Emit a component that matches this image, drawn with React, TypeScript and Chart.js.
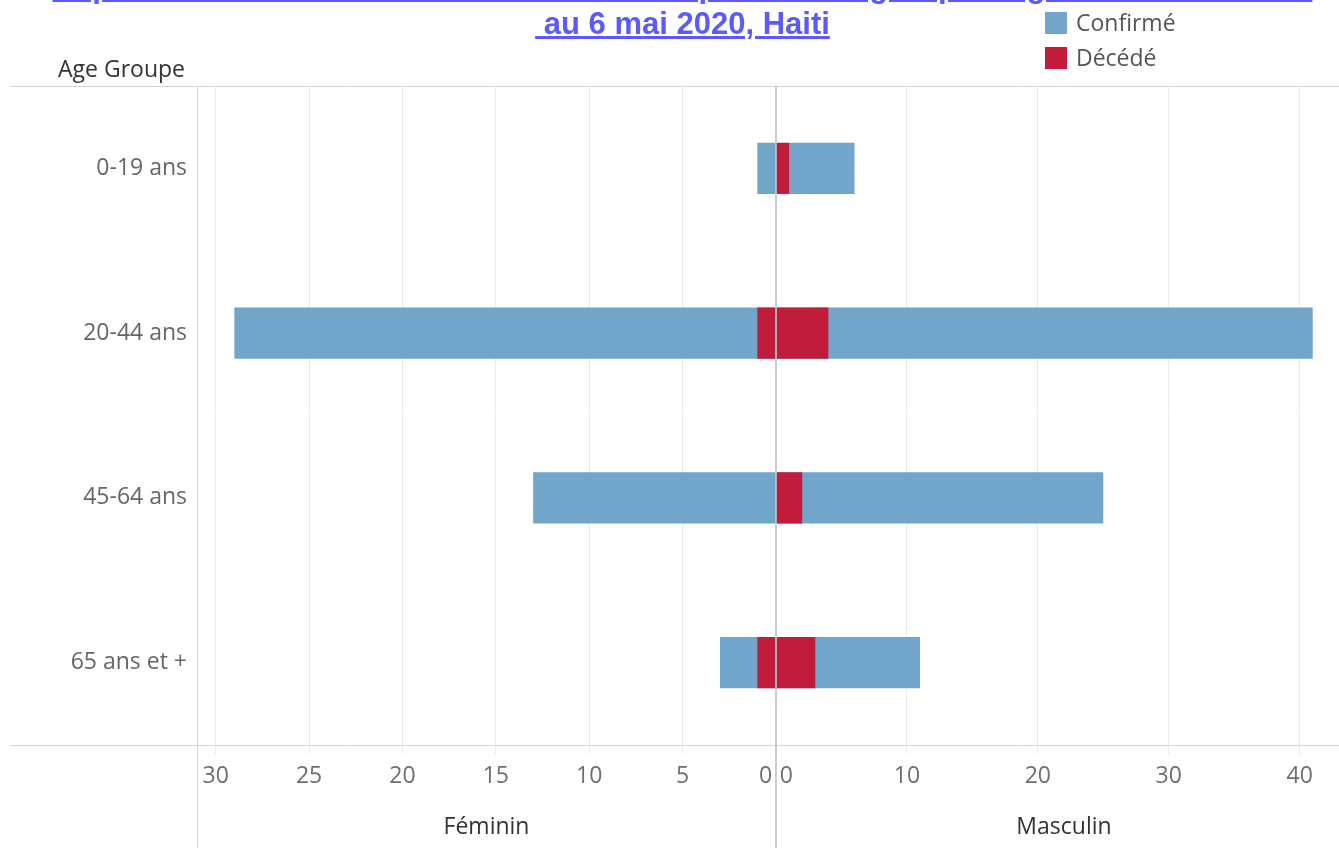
import React, { useEffect, useRef } from 'react';
import { Chart, registerables } from 'chart.js';

Chart.register(...registerables);

const titleLine1 = "Répartition des cas confirmés et des décès par sexe et groupe d'âge du 19 mars 2020";
const titleLine2 = '\u00a0au 6 mai 2020, Haiti';
const rowHeader = 'Age Groupe';
const ageGroups = ['0-19 ans', '20-44 ans', '45-64 ans', '65 ans et +'];
const femaleConfirmed = [1, 29, 13, 3];
const femaleDeceased = [0, 1, 0, 1];
const maleConfirmed = [6, 41, 25, 11];
const maleDeceased = [1, 4, 2, 3];
const femaleTicks = [0, 5, 10, 15, 20, 25, 30];
const maleTicks = [0, 10, 20, 30, 40];
const femaleMax = 31;
const maleMax = 44;
const paneLabels = ['Féminin', 'Masculin'];
const legendLabels = ['Confirmé', 'Décédé'];

const BLUE = '#72a5ca';
const RED = '#c21c3c';
const legendColors = [BLUE, RED];
const FONT = "'Open Sans', 'Noto Sans', sans-serif";

const framePlugin = {
  id: 'frame',
  afterDatasetsDraw(chart: any) {
    const { ctx, chartArea, width, height } = chart;
    const xF = chart.scales.xF;
    ctx.save();
    ctx.strokeStyle = '#d4d4d4';
    ctx.lineWidth = 1;
    ctx.beginPath();
    ctx.moveTo(10, Math.round(chartArea.top) + 0.5);
    ctx.lineTo(width, Math.round(chartArea.top) + 0.5);
    ctx.moveTo(10, Math.round(chartArea.bottom) + 0.5);
    ctx.lineTo(width, Math.round(chartArea.bottom) + 0.5);
    ctx.moveTo(Math.round(chartArea.left) + 0.5, chartArea.top);
    ctx.lineTo(Math.round(chartArea.left) + 0.5, height);
    ctx.stroke();
    const x0 = Math.round(xF.getPixelForValue(0));
    ctx.strokeStyle = 'rgba(190,190,190,0.75)';
    ctx.lineWidth = 2;
    ctx.beginPath();
    ctx.moveTo(x0, chartArea.top);
    ctx.lineTo(x0, height);
    ctx.stroke();
    ctx.restore();
  },
};

function makeXAxis(ticksList: number[], max: number, reverse: boolean, title: string, weight: number) {
  return {
    type: 'linear',
    position: 'bottom',
    stack: 'panes',
    stackWeight: weight,
    reverse,
    min: 0,
    max,
    afterBuildTicks: (s: any) => {
      s.ticks = [...ticksList, max].map((v) => ({ value: v }));
    },
    afterFit: (s: any) => {
      s.height = 103;
    },
    ticks: {
      align: 'inner',
      autoSkip: false,
      maxRotation: 0,
      minRotation: 0,
      padding: 9,
      color: '#6e6e6e',
      font: { family: FONT, size: 23 },
      callback: (v: number) => {
        if (!ticksList.includes(v)) return '';
        if (v === 0) return reverse ? '0\u2009' : '\u20090';
        return String(v);
      },
    },
    grid: {
      color: (c: any) =>
        c.tick && (c.tick.value === 0 || c.tick.value === max) ? 'rgba(0,0,0,0)' : '#ececec',
      lineWidth: 1,
      tickLength: 9,
      drawTicks: true,
    },
    border: { display: false },
    title: {
      display: true,
      text: title,
      color: '#333333',
      font: { family: FONT, size: 23 },
      padding: { top: 0, bottom: 7 },
    },
  };
}

export default function App() {
  const canvasRef = useRef<HTMLCanvasElement | null>(null);

  useEffect(() => {
    const canvas = canvasRef.current;
    if (!canvas) return;
    const common = { grouped: false, barPercentage: 0.31, categoryPercentage: 1, borderWidth: 0 };
    const chart = new Chart(canvas, {
      type: 'bar',
      data: {
        labels: ageGroups,
        datasets: [
          { label: legendLabels[1] + ' ' + paneLabels[0], data: femaleDeceased, xAxisID: 'xF', yAxisID: 'y', backgroundColor: RED, order: 0, ...common },
          { label: legendLabels[1] + ' ' + paneLabels[1], data: maleDeceased, xAxisID: 'xM', yAxisID: 'y', backgroundColor: RED, order: 0, ...common },
          { label: legendLabels[0] + ' ' + paneLabels[0], data: femaleConfirmed, xAxisID: 'xF', yAxisID: 'y', backgroundColor: BLUE, order: 1, ...common },
          { label: legendLabels[0] + ' ' + paneLabels[1], data: maleConfirmed, xAxisID: 'xM', yAxisID: 'y', backgroundColor: BLUE, order: 1, ...common },
        ] as any,
      },
      options: {
        indexAxis: 'y',
        animation: false,
        responsive: false,
        devicePixelRatio: 1,
        layout: { padding: { top: 86, left: 0, right: 0, bottom: 0 } },
        plugins: { legend: { display: false }, tooltip: { enabled: false } },
        scales: {
          xF: makeXAxis(femaleTicks, femaleMax, true, paneLabels[0], 579),
          xM: makeXAxis(maleTicks, maleMax, false, paneLabels[1], 576),
          y: {
            type: 'category',
            position: 'left',
            grid: { display: false, drawTicks: false },
            border: { display: false },
            ticks: { padding: 10, color: '#666666', font: { family: FONT, size: 23 } },
            afterFit: (s: any) => {
              s.width = 197;
            },
          },
        } as any,
      } as any,
      plugins: [framePlugin],
    });
    return () => chart.destroy();
  }, []);

  return (
    <div style={{ position: 'fixed', left: 0, top: 0, width: 1339, height: 848, overflow: 'hidden', background: '#ffffff' }}>
      <canvas ref={canvasRef} width={1361} height={848} style={{ position: 'absolute', left: 0, top: 0, display: 'block' }} />
      <div
        style={{
          position: 'absolute',
          left: 0,
          top: -32,
          width: 1365,
          textAlign: 'center',
          fontFamily: "'Liberation Sans', Arial, sans-serif",
          fontWeight: 'bold',
          fontSize: 31,
          lineHeight: '37px',
          color: '#5a5aff',
          textDecoration: 'underline',
          whiteSpace: 'nowrap',
        }}
      >
        {titleLine1}
        <br />
        {titleLine2}
      </div>
      {legendLabels.map((lab, i) => (
        <React.Fragment key={lab}>
          <div style={{ position: 'absolute', left: 1045, top: 12 + i * 35, width: 22, height: 22, background: legendColors[i] }} />
          <div style={{ position: 'absolute', left: 1076, top: 6 + i * 34.5, fontFamily: FONT, fontSize: 23, color: '#555555', lineHeight: 'normal', whiteSpace: 'nowrap' }}>
            {lab}
          </div>
        </React.Fragment>
      ))}
      <div style={{ position: 'absolute', left: 58, top: 52, fontFamily: FONT, fontSize: 23, color: '#333333', lineHeight: 'normal', whiteSpace: 'nowrap' }}>
        {rowHeader}
      </div>
    </div>
  );
}
